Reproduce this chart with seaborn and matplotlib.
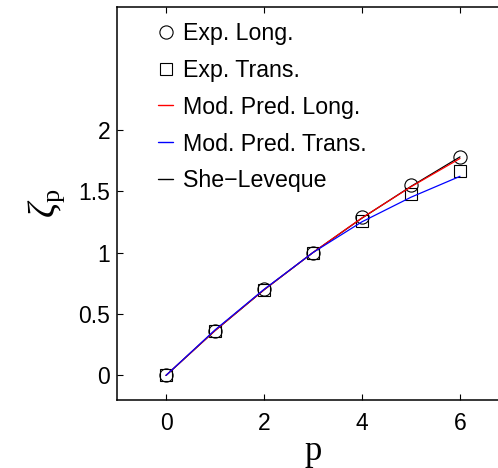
import matplotlib
matplotlib.use("Agg")
import matplotlib.pyplot as plt
import seaborn as sns
import numpy as np

p = [0, 1, 2, 3, 4, 5, 6]
exp_long = [0.0, 0.365, 0.70, 1.0, 1.29, 1.55, 1.78]
exp_trans = [0.0, 0.36, 0.695, 1.0, 1.26, 1.475, 1.66]
mod_long = [0.0, 0.365, 0.697, 1.0, 1.282, 1.535, 1.765]
mod_trans = [0.0, 0.37, 0.70, 1.0, 1.25, 1.45, 1.62]
she_leveque = [0.0, 0.364, 0.696, 1.0, 1.280, 1.538, 1.778]

sns.set_style("ticks")
plt.rcParams['font.family'] = ['Liberation Sans', 'DejaVu Sans']
plt.rcParams['mathtext.fontset'] = 'custom'
plt.rcParams['mathtext.rm'] = 'Liberation Serif'
plt.rcParams['mathtext.it'] = 'Liberation Serif:italic'
for k in ['text.color', 'axes.labelcolor', 'xtick.color', 'ytick.color', 'axes.edgecolor']:
    plt.rcParams[k] = 'black'

fig = plt.figure(figsize=(4.98, 4.68), dpi=100)
# axes extend slightly beyond the right edge of the figure (as in the reference crop)
ax = fig.add_axes([117/498, 1 - 400/468, (509 - 117)/498, (400 - 6.7)/468])

lw = 0.9
sns.lineplot(x=p, y=exp_long, ax=ax, marker='o', linestyle='', markersize=9.5,
             markerfacecolor='none', markeredgecolor='k', markeredgewidth=0.8,
             color='k', label='Exp. Long.')
sns.lineplot(x=p, y=exp_trans, ax=ax, marker='s', linestyle='', markersize=8.5,
             markerfacecolor='none', markeredgecolor='k', markeredgewidth=0.8,
             color='k', label='Exp. Trans.')
sns.lineplot(x=p, y=mod_long, ax=ax, color='red', linewidth=lw, label='Mod. Pred. Long.')
sns.lineplot(x=p, y=mod_trans, ax=ax, color='blue', linewidth=lw, label='Mod. Pred. Trans.')
sns.lineplot(x=p, y=she_leveque, ax=ax, color='black', linewidth=lw, label='She\u2212Leveque', zorder=1.9)

ax.set_xlim(-1.0, 7.0)
ax.set_ylim(-0.2, 3.0)
ax.set_xticks([0, 2, 4, 6])
ax.set_yticks([0, 0.5, 1, 1.5, 2])
ax.set_yticklabels(['0', '0.5', '1', '1.5', '2'])
ax.tick_params(direction='in', top=True, right=True, labelsize=16.5, length=4, width=0.8)
ax.tick_params(axis='y', pad=5)
ax.tick_params(axis='x', pad=9)
for s in ax.spines.values():
    s.set_linewidth(1.1)
    s.set_visible(True)

ax.set_xlabel('p', fontsize=25, family='Liberation Serif', labelpad=0)
ax.set_ylabel(r'$\zeta_\mathrm{p}$', fontsize=27, labelpad=8)

leg = ax.legend(loc='upper left', bbox_to_anchor=(0.067, 1.0), frameon=False,
                fontsize=16.7, handlelength=0.65, handletextpad=0.4, labelspacing=0.6,
                borderaxespad=0.25)
for h in leg.legend_handles:
    h.set_linewidth(1.0) if hasattr(h, 'set_linewidth') else None

fig.savefig('out.png', dpi=100, facecolor='white')
